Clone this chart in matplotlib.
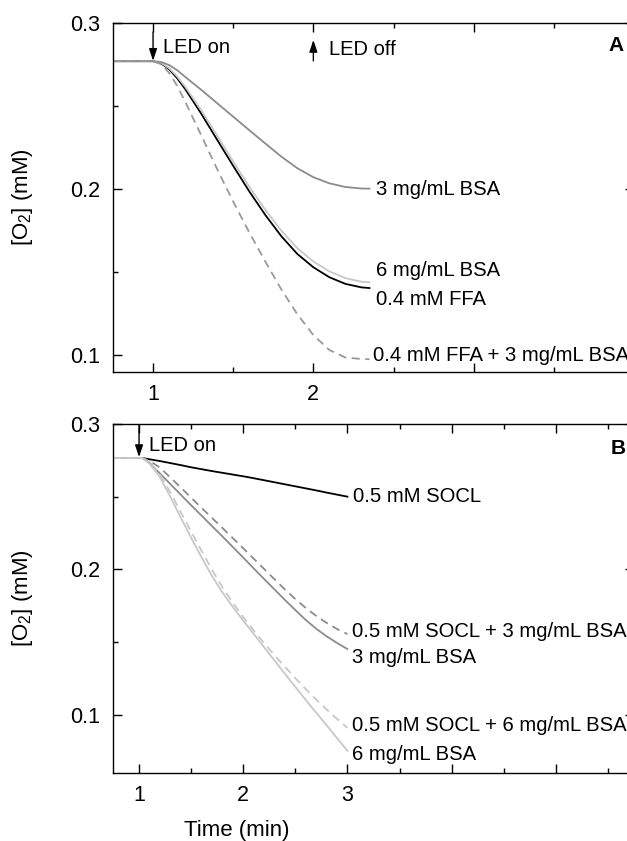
import matplotlib
matplotlib.use("Agg")
import matplotlib.pyplot as plt
from matplotlib.ticker import FixedLocator, MultipleLocator

plt.rcParams.update({
    "font.family": ["Liberation Sans", "DejaVu Sans"],
    "mathtext.default": "regular",
    "axes.linewidth": 1.0,
})

# panel A: O2 traces, LED on at 1 min, off at 2 min
TIME_A = [0.75, 1.0, 1.05, 1.1, 1.15, 1.2, 1.3, 1.4, 1.5, 1.6, 1.7, 1.8, 1.9, 2.0, 2.1, 2.2, 2.3, 2.35]
BSA3_A = [0.277, 0.277, 0.2765, 0.2747, 0.2716, 0.2676, 0.2598, 0.2517, 0.2436, 0.2355, 0.2275, 0.2196,
          0.2126, 0.2072, 0.2035, 0.2013, 0.2004, 0.2003]
FFA_A = [0.277, 0.277, 0.2757, 0.2722, 0.2668, 0.2603, 0.2455, 0.2297, 0.2140, 0.1987, 0.1845, 0.1717,
         0.1610, 0.1530, 0.1470, 0.1430, 0.1409, 0.1405]
BSA6_A = [0.277, 0.277, 0.2760, 0.2728, 0.2678, 0.2617, 0.2476, 0.2322, 0.2166, 0.2015, 0.1876, 0.1750,
          0.1645, 0.1565, 0.1505, 0.1465, 0.1443, 0.1440]
FFA_BSA3_A = [0.277, 0.277, 0.2752, 0.2700, 0.2622, 0.2527, 0.2325, 0.2120, 0.1925, 0.1740, 0.1565, 0.1397,
              0.1247, 0.1122, 0.1032, 0.0987, 0.0978, 0.0977]

# panel B
TIME_B = [0.75, 1.03, 1.1, 1.2, 1.3, 1.4, 1.5, 1.6, 1.7, 1.8, 1.9, 2.0, 2.1, 2.2, 2.3, 2.4, 2.5, 2.6,
          2.7, 2.8, 2.9, 3.0]
SOCL_B = [0.2766, 0.2766, 0.2757, 0.2745, 0.2731, 0.2717, 0.2702, 0.2689, 0.2676, 0.2664, 0.2652,
          0.2640, 0.2627, 0.2613, 0.2599, 0.2585, 0.2571, 0.2557, 0.2543, 0.2528, 0.2514, 0.2500]
BSA3_B = [0.2766, 0.2766, 0.2733, 0.2660, 0.2587, 0.2514, 0.2441, 0.2370, 0.2298, 0.2227, 0.2154,
          0.2081, 0.2007, 0.1934, 0.1862, 0.1790, 0.1720, 0.1652, 0.1592, 0.1540, 0.1494, 0.1452]
SOCL_BSA3_B = [0.2766, 0.2766, 0.2748, 0.2700, 0.2632, 0.2563, 0.2493, 0.2423, 0.2354, 0.2285, 0.2215,
               0.2145, 0.2074, 0.2003, 0.1932, 0.1862, 0.1796, 0.1735, 0.1680, 0.1632, 0.1590, 0.1555]
BSA6_B = [0.2766, 0.2766, 0.2728, 0.2635, 0.2500, 0.2357, 0.2218, 0.2082, 0.1955, 0.1842, 0.1742,
          0.1648, 0.1557, 0.1465, 0.1373, 0.1282, 0.1192, 0.1102, 0.1015, 0.0928, 0.0840, 0.0752]
SOCL_BSA6_B = [0.2766, 0.2766, 0.2737, 0.2655, 0.2530, 0.2395, 0.2260, 0.2128, 0.1998, 0.1878, 0.1770,
               0.1672, 0.1580, 0.1493, 0.1410, 0.1330, 0.1252, 0.1177, 0.1105, 0.1037, 0.0972, 0.0910]

MID = "#8c8c8c"
LIGHT = "#c8c8c8"
LW = 1.3
DASH = (4.5, 3.0)
TXT = 14.6
LED_TXT = 14.5


def style_axes(ax, xlim, ylim, xmajor, xlabels):
    ax.set_xlim(*xlim)
    ax.set_ylim(*ylim)
    ax.xaxis.set_major_locator(FixedLocator(xmajor))
    ax.set_xticklabels(xlabels)
    ax.xaxis.set_minor_locator(FixedLocator([v + 0.5 for v in [0] + xmajor]))
    ax.yaxis.set_major_locator(FixedLocator([0.1, 0.2, 0.3]))
    ax.set_yticklabels(["0.1", "0.2", "0.3"])
    ax.yaxis.set_minor_locator(MultipleLocator(0.05))
    ax.tick_params(which="both", direction="in", top=True, right=True, labelsize=15.5, pad=9)
    ax.tick_params(which="major", length=6.5, width=1.0)
    ax.tick_params(which="minor", length=3.5, width=1.0)
    ax.set_ylabel("[O$_2$] (mM)", fontsize=16)
    ax.yaxis.set_label_coords(-0.15, 0.5)


def arrow(ax, x, y0, y1):
    ax.annotate("", xy=(x, y1), xytext=(x, y0),
                arrowprops=dict(arrowstyle="-|>,head_length=0.6,head_width=0.2", color="black",
                                lw=1.0, shrinkA=0, shrinkB=0, mutation_scale=12))


fig = plt.figure(figsize=(6.27, 8.41), dpi=100)
ax_a = fig.add_axes([0.1802, 0.5577, 0.8309, 0.4150])
ax_b = fig.add_axes([0.1802, 0.0809, 0.8309, 0.4150])

# --- A ---
ax_a.plot(TIME_A, FFA_A, color="black", lw=LW)
ax_a.plot(TIME_A, BSA6_A, color=LIGHT, lw=LW)
ax_a.plot(TIME_A, BSA3_A, color=MID, lw=LW)
ax_a.plot(TIME_A, FFA_BSA3_A, color="#999999", lw=LW, dashes=DASH)
style_axes(ax_a, (0.75, 4.0), (0.09, 0.3), [1, 2, 3, 4], ["1", "2", "", ""])

ax_a.text(2.39, 0.1995, "3 mg/mL BSA", fontsize=TXT, va="center")
ax_a.text(2.39, 0.1509, "6 mg/mL BSA", fontsize=TXT, va="center")
ax_a.text(2.39, 0.1339, "0.4 mM FFA", fontsize=TXT, va="center")
ax_a.text(2.37, 0.1000, "0.4 mM FFA + 3 mg/mL BSA", fontsize=TXT, va="center")

arrow(ax_a, 1.0, 0.2945, 0.2772)
arrow(ax_a, 2.0, 0.2772, 0.2898)
ax_a.text(1.06, 0.2855, "LED on", fontsize=LED_TXT, va="center")
ax_a.text(2.10, 0.2840, "LED off", fontsize=LED_TXT, va="center")
ax_a.text(3.84, 0.2865, "A", fontsize=15, fontweight="bold", va="center")

# --- B ---
ax_b.plot(TIME_B, SOCL_B, color="black", lw=LW)
ax_b.plot(TIME_B, BSA3_B, color=MID, lw=LW)
ax_b.plot(TIME_B, SOCL_BSA3_B, color=MID, lw=LW, dashes=DASH)
ax_b.plot(TIME_B, SOCL_BSA6_B, color=LIGHT, lw=LW, dashes=DASH)
ax_b.plot(TIME_B, BSA6_B, color=LIGHT, lw=LW)
style_axes(ax_b, (0.75, 5.75), (0.06, 0.3), [1, 2, 3, 4, 5], ["1", "2", "3", "", ""])

ax_b.text(3.05, 0.2498, "0.5 mM SOCL", fontsize=TXT, va="center")
ax_b.text(3.04, 0.1570, "0.5 mM SOCL + 3 mg/mL BSA", fontsize=TXT, va="center")
ax_b.text(3.04, 0.1392, "3 mg/mL BSA", fontsize=TXT, va="center")
ax_b.text(3.04, 0.0924, "0.5 mM SOCL + 6 mg/mL BSA", fontsize=TXT, va="center")
ax_b.text(3.04, 0.0725, "6 mg/mL BSA", fontsize=TXT, va="center")

arrow(ax_b, 1.0, 0.2995, 0.2772)
ax_b.text(1.10, 0.2850, "LED on", fontsize=LED_TXT, va="center")
ax_b.text(5.53, 0.2830, "B", fontsize=15, fontweight="bold", va="center")

ax_b.set_xlabel("Time (min)", fontsize=16, va="top")
ax_b.xaxis.set_label_coords(0.238, -0.135)

fig.savefig("out.png", dpi=100)
